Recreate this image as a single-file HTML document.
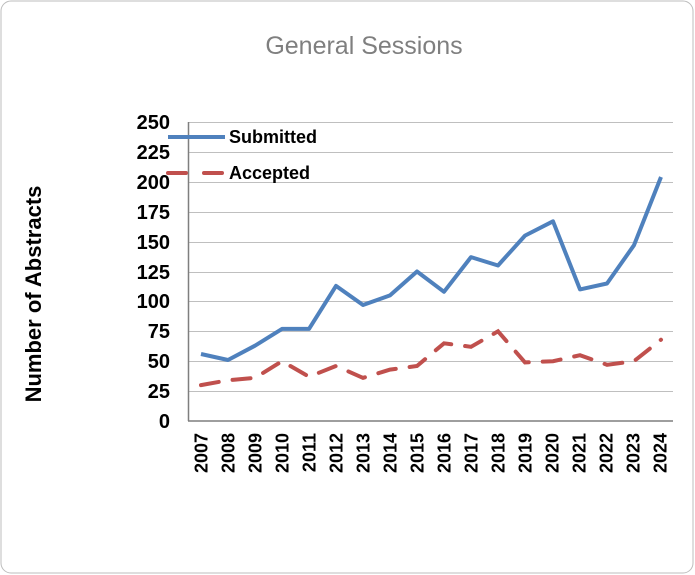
<!DOCTYPE html>
<html><head><meta charset="utf-8"><style>
body{margin:0;background:#fff}
svg{display:block;font-family:"Liberation Sans",Arial,sans-serif}
</style></head><body>
<svg width="695" height="575" xmlns="http://www.w3.org/2000/svg">
<rect x="1" y="1" width="692" height="572" rx="10" fill="#fff" stroke="#bdbdbd" stroke-width="1"/>
<text x="364" y="54" font-size="25" fill="#7f7f7f" text-anchor="middle">General Sessions</text>
<g stroke="#bfbfbf" stroke-width="1">
<line x1="188" x2="673" y1="122.5" y2="122.5"/><line x1="188" x2="673" y1="152.5" y2="152.5"/>
<line x1="188" x2="673" y1="182.5" y2="182.5"/><line x1="188" x2="673" y1="212.5" y2="212.5"/>
<line x1="188" x2="673" y1="242.5" y2="242.5"/><line x1="188" x2="673" y1="272.5" y2="272.5"/>
<line x1="188" x2="673" y1="301.5" y2="301.5"/><line x1="188" x2="673" y1="331.5" y2="331.5"/>
<line x1="188" x2="673" y1="361.5" y2="361.5"/><line x1="188" x2="673" y1="391.5" y2="391.5"/>
</g>
<line x1="188.5" y1="122" x2="188.5" y2="421" stroke="#7f7f7f" stroke-width="1.5"/>
<line x1="188" y1="421" x2="673" y2="421" stroke="#7f7f7f" stroke-width="1.5"/>
<g font-size="20" font-weight="bold" text-anchor="end" fill="#000">
<text x="170" y="129">250</text><text x="170" y="159">225</text><text x="170" y="189">200</text>
<text x="170" y="219">175</text><text x="170" y="249">150</text><text x="170" y="279">125</text>
<text x="170" y="308">100</text><text x="170" y="338">75</text><text x="170" y="368">50</text>
<text x="170" y="398">25</text><text x="170" y="428">0</text>
</g>
<text transform="translate(41,294) rotate(-90)" font-size="22" font-weight="bold" text-anchor="middle">Number of Abstracts</text>
<g font-size="18" font-weight="bold" text-anchor="end">
<text transform="translate(207.5,433) rotate(-90)">2007</text>
<text transform="translate(234.5,433) rotate(-90)">2008</text>
<text transform="translate(261.5,433) rotate(-90)">2009</text>
<text transform="translate(288.5,433) rotate(-90)">2010</text>
<text transform="translate(315.5,433) rotate(-90)">2011</text>
<text transform="translate(342.5,433) rotate(-90)">2012</text>
<text transform="translate(369.5,433) rotate(-90)">2013</text>
<text transform="translate(396.5,433) rotate(-90)">2014</text>
<text transform="translate(423.5,433) rotate(-90)">2015</text>
<text transform="translate(450.5,433) rotate(-90)">2016</text>
<text transform="translate(477.5,433) rotate(-90)">2017</text>
<text transform="translate(504.5,433) rotate(-90)">2018</text>
<text transform="translate(531.5,433) rotate(-90)">2019</text>
<text transform="translate(558.5,433) rotate(-90)">2020</text>
<text transform="translate(585.5,433) rotate(-90)">2021</text>
<text transform="translate(612.5,433) rotate(-90)">2022</text>
<text transform="translate(639.5,433) rotate(-90)">2023</text>
<text transform="translate(666.5,433) rotate(-90)">2024</text>
</g>
<polyline fill="none" stroke="#4f81bd" stroke-width="4" stroke-linejoin="round" points="201,354 228,360 255,345.7 282,328.9 309,328.9 336,285.9 363,305 390,295.4 417,271.5 444,291.8 471,257.1 498,265.5 525,235.6 553,221.3 580,289.4 607,283.5 634,245.2 661,177"/>
<polyline fill="none" stroke="#c0504d" stroke-width="4" stroke-dasharray="18,14" stroke-linecap="round" points="201,385.1 228,380.3 255,377.9 282,361.2 309,376.7 336,366 363,377.9 390,369.6 417,366 444,343.3 471,346.8 498,331.3 525,362.4 553,361.2 580,355.2 607,364.8 634,361.2 661,339.7"/>
<line x1="168" y1="137" x2="225" y2="137" stroke="#4f81bd" stroke-width="4"/>
<text x="229" y="143" font-size="18" font-weight="bold">Submitted</text>
<line x1="168" y1="173" x2="186" y2="173" stroke="#c0504d" stroke-width="4" stroke-linecap="round"/>
<line x1="204" y1="173" x2="222" y2="173" stroke="#c0504d" stroke-width="4" stroke-linecap="round"/>
<text x="229" y="179" font-size="18" font-weight="bold">Accepted</text>
</svg>
</body></html>
